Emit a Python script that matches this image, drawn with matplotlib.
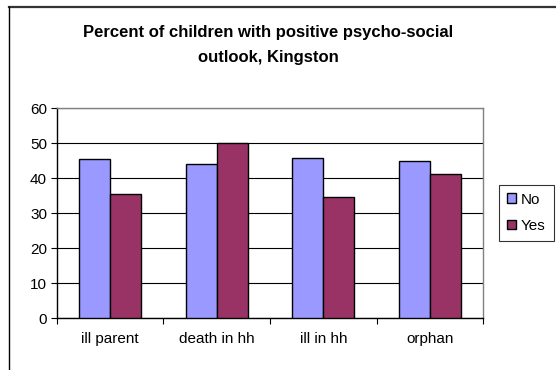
import numpy as np
import matplotlib.pyplot as plt
from matplotlib.lines import Line2D

plt.rcParams['font.family'] = ['Liberation Sans', 'DejaVu Sans']

categories = ['ill parent', 'death in hh', 'ill in hh', 'orphan']
no_vals = [45.4, 44.2, 45.7, 44.9]
yes_vals = [35.5, 50.0, 34.7, 41.2]
series_names = ['No', 'Yes']
y_ticks = [0, 10, 20, 30, 40, 50, 60]

W, H = 556, 370
fig = plt.figure(figsize=(W / 100, H / 100), dpi=100)

# plot area in pixel coords
left, right, top, bottom = 56.7, 483.3, 108.3, 318.3
ax = fig.add_axes([left / W, 1 - bottom / H, (right - left) / W, (bottom - top) / H])

x = np.arange(len(categories))
bw = 0.29
ax.bar(x - bw / 2, no_vals, bw, color='#9999ff', edgecolor='black', linewidth=1, label=series_names[0], zorder=3)
ax.bar(x + bw / 2, yes_vals, bw, color='#993366', edgecolor='black', linewidth=1, label=series_names[1], zorder=3)

ax.set_xlim(-0.5, len(categories) - 0.5)
ax.set_ylim(0, 60)
ax.set_yticks(y_ticks)
ax.yaxis.grid(True, color='black', linewidth=0.8, zorder=0)
ax.set_axisbelow(True)

# category labels between boundary ticks
ax.set_xticks(np.arange(len(categories) + 1) - 0.5)
ax.set_xticklabels([])
ax.set_xticks(x, minor=True)
ax.set_xticklabels(categories, minor=True)
ax.tick_params(axis='x', which='minor', length=0, pad=10, labelsize=11)
ax.tick_params(axis='x', which='major', length=4, direction='out', width=0.8)
ax.tick_params(axis='y', length=4, width=0.8, labelsize=11, pad=3)

for s in ['top', 'right']:
    ax.spines[s].set_color('#808080')
    ax.spines[s].set_linewidth(1)
for s in ['left', 'bottom']:
    ax.spines[s].set_color('black')
    ax.spines[s].set_linewidth(1)

fig.text(268 / W, 1 - 45 / H, 'Percent of children with positive psycho-social\noutlook, Kingston',
         ha='center', va='center', fontsize=12, fontweight='bold', linespacing=1.85)

# outer chart frame
fig.add_artist(Line2D([8.5 / W, 1.0], [1 - 6.5 / H, 1 - 6.5 / H], color='#333333', linewidth=1.6))
fig.add_artist(Line2D([8.5 / W, 8.5 / W], [0, 1 - 6.5 / H], color='black', linewidth=1))

leg = fig.legend(loc='upper left', bbox_to_anchor=(499 / W, 1 - 185 / H), frameon=True,
                 fancybox=False, edgecolor='black', fontsize=11, handlelength=0.6,
                 handleheight=0.6, handletextpad=0.35, borderpad=0.5, labelspacing=0.8,
                 borderaxespad=0)
leg.get_frame().set_linewidth(0.8)

fig.savefig('out.png', dpi=100)
